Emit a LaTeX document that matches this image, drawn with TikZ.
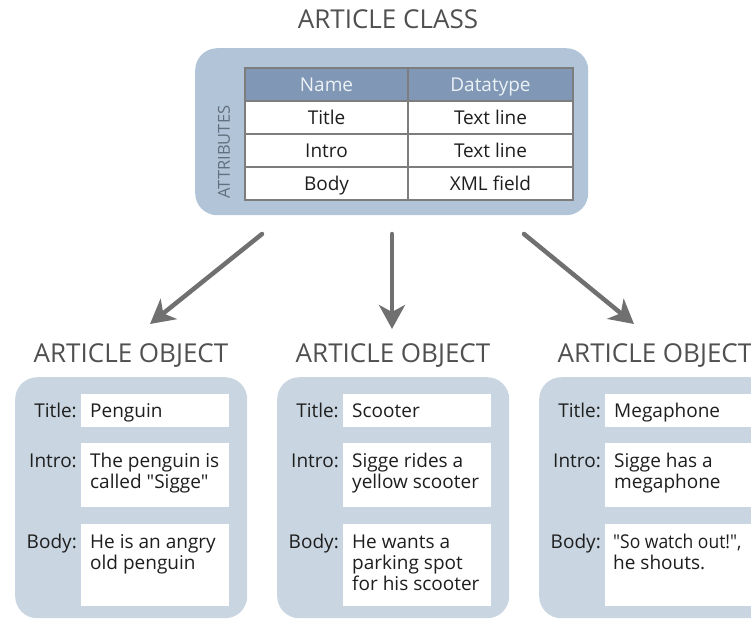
\documentclass[tikz,border=0pt]{standalone}
\usepackage{fontspec}
\setmainfont{Open Sans}[Ligatures=TeXOff]
\usetikzlibrary{arrows.meta}
\definecolor{clsbox}{RGB}{178,197,216}
\definecolor{hdr}{RGB}{128,152,181}
\definecolor{hdrtxt}{RGB}{236,241,246}
\definecolor{objbox}{RGB}{201,214,225}
\definecolor{arrowc}{RGB}{112,112,112}
\definecolor{gridc}{RGB}{125,125,125}
\definecolor{headc}{RGB}{80,80,80}
\definecolor{txt}{RGB}{30,30,30}
\definecolor{attrc}{RGB}{98,112,128}
\newcommand{\fieldlines}[1]{\parbox[t]{145pt}{\raggedright #1}}
\begin{document}
\begin{tikzpicture}[x=1pt,y=-1pt,
  heading/.style={font=\fontsize{26}{30}\selectfont, text=headc, inner sep=0pt, anchor=base},
  bigbox/.style={rectangle, rounded corners=22pt, anchor=north west, inner sep=0pt},
  cell/.style={rectangle, draw=gridc, line width=1.4pt, fill=white, inner sep=0pt,
    text=txt, font=\fontsize{19}{21}\selectfont, text height=13.5pt, text depth=0pt},
  hcell/.style={cell, fill=hdr, text=hdrtxt},
  field/.style={rectangle, fill=white, anchor=north west, inner sep=0pt, minimum width=148pt},
  ftext/.style={anchor=base west, inner sep=0pt, text=txt, font=\fontsize{19}{21}\selectfont},
  lbl/.style={anchor=base east, inner sep=0pt, text=txt, font=\fontsize{19}{21}\selectfont},
  conn/.style={draw=arrowc, line width=4.5pt, line cap=round, -{Stealth[length=24pt,width=26pt,inset=7pt]}}
]
\clip (0,0) rectangle (751,619);

% ---------- class ----------
\node[heading] (clsh) at (388,28) {ARTICLE CLASS};
\node[bigbox, fill=clsbox, minimum width=393pt, minimum height=167pt] (cls) at (195,48) {};
\node[rotate=90, inner sep=0pt, text=attrc, font=\fontsize{16.5}{18}\selectfont] (attr) at (224,152) {ATTRIBUTES};

\node[hcell, minimum width=163pt, minimum height=33pt] (h1) at (326.5,84.5) {Name};
\node[hcell, minimum width=165pt, minimum height=33pt] (h2) at (490.5,84.5) {Datatype};
\node[cell, minimum width=163pt, minimum height=33pt] (r1a) at (326.5,117.5) {Title};
\node[cell, minimum width=165pt, minimum height=33pt] (r1b) at (490.5,117.5) {Text line};
\node[cell, minimum width=163pt, minimum height=33pt] (r2a) at (326.5,150.5) {Intro};
\node[cell, minimum width=165pt, minimum height=33pt] (r2b) at (490.5,150.5) {Text line};
\node[cell, minimum width=163pt, minimum height=33pt] (r3a) at (326.5,183.5) {Body};
\node[cell, minimum width=165pt, minimum height=33pt] (r3b) at (490.5,183.5) {XML field};

% ---------- arrows ----------
\coordinate (a1s) at (262,234); \coordinate (a1e) at (150,324);
\coordinate (a2s) at (392,234); \coordinate (a2e) at (392,329);
\coordinate (a3s) at (524,234); \coordinate (a3e) at (634,324);
\draw[conn] (a1s) -- (a1e);
\draw[conn] (a2s) -- (a2e);
\draw[conn] (a3s) -- (a3e);

% ---------- object 1 ----------
\node[heading] (oh1) at (131,362) {ARTICLE OBJECT};
\node[bigbox, fill=objbox, minimum width=232pt, minimum height=241pt] (ob1) at (15,377) {};
\node[field, minimum height=33pt] (t1) at (81,394) {};
\node[field, minimum height=64pt] (i1) at (81,443) {};
\node[field, minimum height=82pt] (b1) at (81,524) {};
\node[lbl] (lt1) at ([xshift=-4pt,yshift=-23pt]t1.north west) {Title:};
\node[lbl] (li1) at ([xshift=-4pt,yshift=-24pt]i1.north west) {Intro:};
\node[lbl] (lb1) at ([xshift=-4pt,yshift=-24pt]b1.north west) {Body:};
\node[ftext] (tt1) at ([xshift=9pt,yshift=-23pt]t1.north west) {Penguin};
\node[ftext] (ti1) at ([xshift=9pt,yshift=-24pt]i1.north west) {\fieldlines{The penguin is\\called "Sigge"}};
\node[ftext] (tb1) at ([xshift=9pt,yshift=-24pt]b1.north west) {\fieldlines{He is an angry\\old penguin}};

% ---------- object 2 ----------
\node[heading] (oh2) at (393,362) {ARTICLE OBJECT};
\node[bigbox, fill=objbox, minimum width=232pt, minimum height=241pt] (ob2) at (277,377) {};
\node[field, minimum height=33pt] (t2) at (343,394) {};
\node[field, minimum height=64pt] (i2) at (343,443) {};
\node[field, minimum height=82pt] (b2) at (343,524) {};
\node[lbl] (lt2) at ([xshift=-4pt,yshift=-23pt]t2.north west) {Title:};
\node[lbl] (li2) at ([xshift=-4pt,yshift=-24pt]i2.north west) {Intro:};
\node[lbl] (lb2) at ([xshift=-4pt,yshift=-24pt]b2.north west) {Body:};
\node[ftext] (tt2) at ([xshift=9pt,yshift=-23pt]t2.north west) {Scooter};
\node[ftext] (ti2) at ([xshift=9pt,yshift=-24pt]i2.north west) {\fieldlines{Sigge rides a\\yellow scooter}};
\node[ftext] (tb2) at ([xshift=9pt,yshift=-24pt]b2.north west) {\fieldlines{He wants a\\parking spot\\for his scooter}};

% ---------- object 3 ----------
\node[heading] (oh3) at (655,362) {ARTICLE OBJECT};
\node[bigbox, fill=objbox, minimum width=232pt, minimum height=241pt] (ob3) at (539,377) {};
\node[field, minimum height=33pt] (t3) at (605,394) {};
\node[field, minimum height=64pt] (i3) at (605,443) {};
\node[field, minimum height=82pt] (b3) at (605,524) {};
\node[lbl] (lt3) at ([xshift=-4pt,yshift=-23pt]t3.north west) {Title:};
\node[lbl] (li3) at ([xshift=-4pt,yshift=-24pt]i3.north west) {Intro:};
\node[lbl] (lb3) at ([xshift=-4pt,yshift=-24pt]b3.north west) {Body:};
\node[ftext] (tt3) at ([xshift=9pt,yshift=-23pt]t3.north west) {Megaphone};
\node[ftext] (ti3) at ([xshift=9pt,yshift=-24pt]i3.north west) {\fieldlines{Sigge has a\\megaphone}};
\node[ftext] (tb3) at ([xshift=8pt,yshift=-24pt]b3.north west) {\fieldlines{{\addfontfeature{FakeStretch=0.92}"So watch out!",}\\he shouts.}};
\end{tikzpicture}
\end{document}
